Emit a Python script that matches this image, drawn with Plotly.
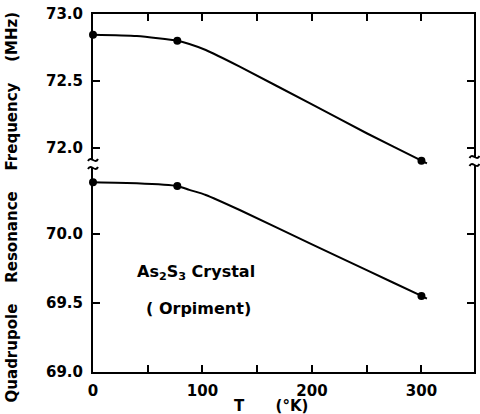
import plotly.graph_objects as go

# ---- data ----
T_meas = [0, 77, 300]
f_upper_meas = [72.845, 72.80, 71.905]
f_lower_meas = [70.375, 70.348, 69.551]

T_curve = [0, 40, 77, 88, 103, 134, 200, 250, 300, 305]
f_upper_curve = [72.845, 72.835, 72.80, 72.776, 72.731, 72.607, 72.325, 72.11, 71.905, 71.885]
f_lower_curve = [70.375, 70.368, 70.348, 70.32, 70.283, 70.174, 69.925, 69.738, 69.551, 69.532]

x_major = [0, 100, 200, 300]
x_minor = [50, 150, 250, 350]
y_low_ticks = [69.0, 69.5, 70.0]
y_up_ticks = [72.0, 72.5, 73.0]

# ---- layout geometry ----
W, H = 480, 414
ML, MR, MT, MB = 93, 4, 14, 42
PW, PH = W - ML - MR, H - MT - MB
break_px = 165
d = (H - MB - break_px) / PH

FONT = dict(family="DejaVu Sans", size=15, color="black", weight="bold")

fig = go.Figure()
line_style = dict(color="black", width=2)
fig.add_trace(go.Scatter(x=T_curve, y=f_upper_curve, mode="lines", line=dict(**line_style, shape="spline", smoothing=0.6),
                         xaxis="x2", yaxis="y2", hoverinfo="skip"))
fig.add_trace(go.Scatter(x=T_meas, y=f_upper_meas, mode="markers", marker=dict(color="black", size=8),
                         xaxis="x2", yaxis="y2", cliponaxis=False))
fig.add_trace(go.Scatter(x=T_curve, y=f_lower_curve, mode="lines", line=dict(**line_style, shape="spline", smoothing=0.6),
                         xaxis="x", yaxis="y", hoverinfo="skip"))
fig.add_trace(go.Scatter(x=T_meas, y=f_lower_meas, mode="markers", marker=dict(color="black", size=8),
                         xaxis="x", yaxis="y", cliponaxis=False))

ax_common = dict(showline=True, linecolor="black", linewidth=2, showgrid=False, zeroline=False,
                 ticks="inside", ticklen=7, tickwidth=2, tickcolor="black", tickfont=FONT)
minor_x = dict(tickvals=x_minor, ticks="inside", ticklen=7, tickwidth=2, tickcolor="black", showgrid=False)

fig.update_layout(
    width=W, height=H,
    margin=dict(l=ML, r=MR, t=MT, b=MB),
    paper_bgcolor="white", plot_bgcolor="white",
    showlegend=False,
    xaxis=dict(**ax_common, range=[0, 348], domain=[0, 1], anchor="y", side="bottom",
               tickvals=x_major, ticklabelstandoff=4, minor=minor_x),
    xaxis2=dict(**ax_common, range=[0, 348], domain=[0, 1], anchor="y2", side="top", matches="x",
                tickvals=x_major, showticklabels=False, minor=minor_x),
    yaxis=dict(**ax_common, range=[69.0, 70.5], domain=[0, d], anchor="x", mirror="ticks",
               tickvals=y_low_ticks, tickformat=".1f", ticklabelstandoff=5),
    yaxis2=dict(**ax_common, range=[71.873, 73.0], domain=[d, 1], anchor="x2", mirror="ticks",
                tickvals=y_up_ticks, tickformat=".1f", ticklabelstandoff=5),
)

# axis titles and labels as annotations
ann_font = dict(family="DejaVu Sans", size=15, color="black", weight="bold")
big_font = dict(family="DejaVu Sans", size=16, color="black", weight="bold")
sp = "\u00a0" * 4
fig.add_annotation(text=f"Quadrupole{sp}Resonance{sp}Frequency{sp}(MHz)", textangle=-90,
                   xref="paper", yref="paper", x=(12 - ML) / PW, y=(H - MB - 207) / PH,
                   xanchor="center", yanchor="middle", showarrow=False, font=ann_font)
fig.add_annotation(text="T" + "\u00a0" * 6 + "(°K)", xref="paper", yref="paper",
                   x=(272 - ML) / PW, y=(H - MB - 406) / PH, xanchor="center", yanchor="middle",
                   showarrow=False, font=ann_font)
fig.add_annotation(text="As<sub>2</sub>S<sub>3</sub> Crystal", xref="paper", yref="paper",
                   x=(197 - ML) / PW, y=(H - MB - 272) / PH, xanchor="center", yanchor="middle",
                   showarrow=False, font=big_font)
fig.add_annotation(text="( Orpiment)", xref="paper", yref="paper",
                   x=(199 - ML) / PW, y=(H - MB - 308) / PH, xanchor="center", yanchor="middle",
                   showarrow=False, font=big_font)

# axis-break squiggles
def px(xp):
    return (xp - ML) / PW

def py(yp):
    return (H - MB - yp) / PH

def tilde(cx, cy):
    return (f"M {px(cx-5)},{py(cy+1)} C {px(cx-2)},{py(cy-5)} {px(cx+2)},{py(cy+5)} {px(cx+5)},{py(cy-1)}")

for cx, ys in [(93, (160, 168)), (476.5, (157, 165))]:
    fig.add_shape(type="rect", xref="paper", yref="paper", x0=px(cx - 2), x1=px(cx + 2),
                  y0=py(ys[1]), y1=py(ys[0]), fillcolor="white", line=dict(width=0), layer="above")
    for cy in ys:
        fig.add_shape(type="path", xref="paper", yref="paper", path=tilde(cx, cy),
                      line=dict(color="black", width=2), layer="above")

fig.write_html("out.html")
